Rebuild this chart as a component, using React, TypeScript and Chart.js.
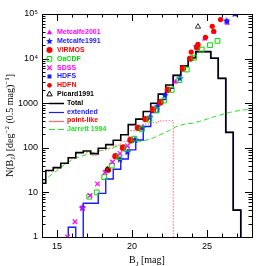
import { useEffect, useRef } from "react";
import { Chart, registerables } from "chart.js";

Chart.register(...registerables);

// ---------- data ----------
const binCenters = [14.0, 14.5, 15.0, 15.5, 16.0, 16.5, 17.0, 17.5, 18.0, 18.5, 19.0, 19.5, 20.0, 20.5, 21.0, 21.5, 22.0, 22.5, 23.0, 23.5, 24.0, 24.5, 25.0, 25.5, 26.0, 26.5, 27.0, 27.5];
const totalCounts = [16, 31, 36, 45, 60, 78, 85, 74, 98, 118, 148, 196, 330, 440, 650, 1000, 1600, 2550, 4200, 6800, 10500, 14300, 14300, 10200, 3600, 222, 4, 0];
const extendedCounts = [0, 0, 0, 0, 1.65, 0, 5.7, 5.7, 9.5, 20, 33, 56, 90, 150, 300, 620, 1200, 2150, 4200, 6800, 10500, 14300, 14300, 10200, 3600, 222, 4, 0];
const pointLikeCounts = [16, 30, 35, 44, 58, 77, 79, 68, 88, 98, 115, 140, 245, 280, 340, 365, 400, 405, 0, 0, 0, 0, 0, 0, 0, 0, 0, 0];

const jarrettMags = [14, 14.5, 15, 15.5, 16, 16.5, 17, 17.5, 18, 18.5, 19, 19.5, 20, 20.5, 21, 21.5, 22, 22.5, 23, 23.5, 24, 24.5, 25, 25.5, 26, 26.5, 27, 27.5, 27.75, 28];
const jarrettCounts = [17, 23, 31, 42, 54, 63, 71, 79, 88, 98, 108, 118, 128, 138, 150, 170, 205, 245, 305, 340, 355, 390, 440, 500, 560, 620, 670, 710, 720, 690];

const metcalfe2001Mags = [22.9, 24.85, 25.45, 26.35, 26.9];
const metcalfe2001Counts = [3000, 27500, 39000, 62000, 100000];

const metcalfe1991Mags = [16.7, 19.2, 19.7, 20.2, 20.7, 21.2, 21.7, 22.2, 23.2, 24.3, 26.3, 26.85];
const metcalfe1991Counts = [4.5, 55, 80, 150, 280, 480, 850, 1500, 3600, 18500, 70000, 100000];

const virmosMags = [18.4, 18.9, 19.4, 19.9, 20.4, 20.9, 21.4, 21.9, 22.4, 23.4, 23.9, 24.35];
const virmosCounts = [32, 65, 100, 150, 280, 440, 720, 1050, 2000, 6000, 10000, 18000];

const oacdfMags = [17.15, 17.65, 18.15, 18.65, 19.15, 19.65, 20.15, 20.65, 21.15, 21.65, 22.15, 22.65, 23.15, 23.65, 24.15, 24.65, 25.2, 25.7];
const oacdfCounts = [8, 10, 22, 40, 62, 95, 160, 260, 430, 700, 1150, 2000, 3300, 5700, 10500, 16000, 20000, 25000];

const sdssMags = [15.7, 16.2, 16.7, 17.2, 17.7, 18.2, 18.7, 19.2, 19.7];
const sdssCounts = [1.0, 2.2, 4.4, 8.5, 15.5, 28, 48, 75, 110];

const hdfsMags = [26.35, 26.9];
const hdfsCounts = [68000, 100000];

const hdfnMags = [23.95, 24.4, 24.9, 25.35, 25.45, 25.9];
const hdfnCounts = [14000, 21000, 30000, 53000, 41000, 75000];

const picardMags = [18.35, 24.4];
const picardCounts = [33, 52000];

const xTickValues = [15, 20, 25];
const yTickValues = [1, 10, 100, 1000, 10000, 100000];
const yTickLabels = ["1", "10", "100", "1000", "10\u2074", "10\u2075"];

const legendLabels = ["Metcalfe2001", "Metcalfe1991", "VIRMOS", "OaCDF", "SDSS", "HDFS", "HDFN", "Picard1991", "Total", "extended", "point-like", "Jarrett 1994"];

// ---------- styles ----------
const MAGENTA = "#ff00ff";
const BLUE = "#1a1aff";
const RED = "#ff0000";
const GREEN = "#00dd00";
const JGREEN = "#22e622";
const PINK = "#ff6a6a";
const BLACK = "#000000";
const FLOOR = 0.001;

function pts(xs: number[], ys: number[]) {
  return xs.map((x, i) => ({ x, y: ys[i] > 0 ? ys[i] : FLOOR }));
}

function makeStar(color: string, r: number) {
  const c = document.createElement("canvas");
  const s = Math.ceil(r * 2 + 2);
  c.width = s;
  c.height = s;
  const g = c.getContext("2d")!;
  g.beginPath();
  for (let i = 0; i < 10; i++) {
    const a = -Math.PI / 2 + (i * Math.PI) / 5;
    const rr = i % 2 === 0 ? r : r * 0.45;
    g.lineTo(s / 2 + rr * Math.cos(a), s / 2 + rr * Math.sin(a));
  }
  g.closePath();
  g.fillStyle = color;
  g.fill();
  return c;
}

type Seg = { t: string; s?: "sub" | "sup" };

function drawRich(ctx: CanvasRenderingContext2D, segs: Seg[], x: number, y: number, size: number, family: string) {
  const fontFor = (sg: Seg) => `${sg.s ? size * 0.7 : size}px ${family}`;
  let total = 0;
  const widths = segs.map((sg) => {
    ctx.font = fontFor(sg);
    const w = ctx.measureText(sg.t).width;
    total += w;
    return w;
  });
  let cx = x - total / 2;
  ctx.textAlign = "left";
  ctx.textBaseline = "alphabetic";
  segs.forEach((sg, i) => {
    ctx.font = fontFor(sg);
    const dy = sg.s === "sub" ? size * 0.25 : sg.s === "sup" ? -size * 0.4 : 0;
    ctx.fillText(sg.t, cx, y + dy);
    cx += widths[i];
  });
}

function drawMarker(ctx: CanvasRenderingContext2D, kind: string, x: number, y: number, color: string) {
  ctx.save();
  ctx.fillStyle = color;
  ctx.strokeStyle = color;
  ctx.lineWidth = 1;
  ctx.beginPath();
  if (kind === "triFill" || kind === "triOpen") {
    const r = 3;
    ctx.moveTo(x, y - r);
    ctx.lineTo(x + r * 0.9, y + r * 0.6);
    ctx.lineTo(x - r * 0.9, y + r * 0.6);
    ctx.closePath();
    if (kind === "triFill") ctx.fill();
    else ctx.stroke();
  } else if (kind === "star") {
    for (let i = 0; i < 10; i++) {
      const a = -Math.PI / 2 + (i * Math.PI) / 5;
      const rr = i % 2 === 0 ? 3.6 : 1.6;
      ctx.lineTo(x + rr * Math.cos(a), y + rr * Math.sin(a));
    }
    ctx.closePath();
    ctx.fill();
  } else if (kind === "circle" || kind === "circleSmall") {
    ctx.arc(x, y, kind === "circle" ? 3 : 2.4, 0, Math.PI * 2);
    ctx.fill();
  } else if (kind === "squareOpen") {
    ctx.rect(x - 2.3, y - 2.3, 4.6, 4.6);
    ctx.stroke();
  } else if (kind === "squareFill") {
    ctx.rect(x - 2, y - 2, 4, 4);
    ctx.fill();
  } else if (kind === "cross") {
    ctx.lineWidth = 1.2;
    ctx.moveTo(x - 2.3, y - 2.3);
    ctx.lineTo(x + 2.3, y + 2.3);
    ctx.moveTo(x + 2.3, y - 2.3);
    ctx.lineTo(x - 2.3, y + 2.3);
    ctx.stroke();
  }
  ctx.restore();
}

const decorPlugin = {
  id: "decor",
  afterDraw(chart: any) {
    const ctx: CanvasRenderingContext2D = chart.ctx;
    const { left, right, top, bottom } = chart.chartArea;
    const xs = chart.scales.x;
    const ys = chart.scales.y;
    ctx.save();
    ctx.strokeStyle = BLACK;
    ctx.lineWidth = 1;
    // frame
    ctx.strokeRect(Math.round(left) + 0.5, Math.round(top) + 0.5, Math.round(right - left), Math.round(bottom - top));
    // y ticks (log)
    ctx.beginPath();
    for (let d = 0; d < 5; d++) {
      for (let j = 1; j <= 9; j++) {
        const v = j * Math.pow(10, d);
        if (v > 100000) continue;
        const py = Math.round(ys.getPixelForValue(v)) + 0.5;
        const len = j === 1 ? 7 : 3.5;
        ctx.moveTo(left, py);
        ctx.lineTo(left + len, py);
        ctx.moveTo(right, py);
        ctx.lineTo(right - len, py);
      }
    }
    // x ticks
    for (let m = 14; m <= 28; m++) {
      const px = Math.round(xs.getPixelForValue(m)) + 0.5;
      const len = m % 5 === 0 ? 7 : 3.5;
      ctx.moveTo(px, bottom);
      ctx.lineTo(px, bottom - len);
      ctx.moveTo(px, top);
      ctx.lineTo(px, top + len);
    }
    ctx.stroke();

    // axis titles
    ctx.fillStyle = BLACK;
    const serif = "'Liberation Serif'";
    drawRich(ctx, [{ t: "B" }, { t: "J", s: "sub" }, { t: " [mag]" }], (left + right) / 2, 263, 10, serif);
    ctx.save();
    ctx.translate(12.5, (top + bottom) / 2);
    ctx.rotate(-Math.PI / 2);
    drawRich(
      ctx,
      [
        { t: "N(B" },
        { t: "J", s: "sub" },
        { t: ") [deg" },
        { t: "\u22122", s: "sup" },
        { t: " (0.5 mag)" },
        { t: "\u22121", s: "sup" },
        { t: "]" },
      ],
      0,
      0,
      10,
      serif
    );
    ctx.restore();

    // legend
    const kinds = ["triFill", "star", "circle", "squareOpen", "cross", "squareFill", "circleSmall", "triOpen"];
    const markColors = [MAGENTA, BLUE, RED, GREEN, MAGENTA, BLUE, RED, BLACK];
    const textColors = [MAGENTA, BLUE, RED, GREEN, MAGENTA, BLUE, RED, BLACK, BLACK, BLUE, RED, JGREEN];
    ctx.font = "bold 7px 'Liberation Sans'";
    ctx.textBaseline = "middle";
    ctx.textAlign = "left";
    legendLabels.forEach((lab, i) => {
      const y = 32.5 + i * 8.8;
      if (i < 8) {
        drawMarker(ctx, kinds[i], 49.5, y, markColors[i]);
        ctx.fillStyle = textColors[i];
        ctx.font = "bold 7px 'Liberation Sans'";
        ctx.fillText(lab, 57, y);
      } else {
        ctx.save();
        const lc = [BLACK, BLUE, PINK, JGREEN][i - 8];
        ctx.strokeStyle = lc;
        ctx.lineWidth = i === 8 ? 1.5 : 1.2;
        if (i === 11) ctx.setLineDash([6, 3]);
        ctx.beginPath();
        ctx.moveTo(49, Math.round(y) + 0.5);
        ctx.lineTo(64, Math.round(y) + 0.5);
        ctx.stroke();
        ctx.restore();
        ctx.fillStyle = textColors[i];
        ctx.font = "bold 7px 'Liberation Sans'";
        ctx.fillText(lab, 67, y);
      }
    });
    ctx.restore();
  },
};

export default function App() {
  const ref = useRef<HTMLCanvasElement | null>(null);
  useEffect(() => {
    document.body.style.margin = "0";
    const canvas = ref.current!;
    const star = makeStar(BLUE, 4);
    const hist = (label: string, ys: number[], color: string, width: number, order: number, dash?: number[]) => ({
      label,
      data: pts(binCenters, ys),
      borderColor: color,
      borderWidth: width,
      borderDash: dash || [],
      stepped: "middle" as const,
      pointRadius: 0,
      fill: false,
      order,
    });
    const scat = (label: string, xs: number[], ys: number[], style: any, color: string, r: number, filled: boolean, bw = 1) => ({
      label,
      data: pts(xs, ys),
      showLine: false,
      pointStyle: style,
      pointRadius: r,
      pointBackgroundColor: filled ? color : "rgba(0,0,0,0)",
      pointBorderColor: color,
      pointBorderWidth: bw,
      order: 0,
    });
    const chart = new Chart(canvas, {
      type: "line",
      data: {
        datasets: [
          scat("Picard1991", picardMags, picardCounts, "triangle", BLACK, 3, false, 0.8),
          scat("HDFN", hdfnMags, hdfnCounts, "circle", RED, 2.6, true, 0),
          scat("HDFS", hdfsMags, hdfsCounts, "rect", BLUE, 2.6, true, 0),
          scat("SDSS", sdssMags, sdssCounts, "crossRot", MAGENTA, 3.2, false, 1.2),
          scat("OaCDF", oacdfMags, oacdfCounts, "rect", GREEN, 3.4, false, 1),
          scat("VIRMOS", virmosMags, virmosCounts, "circle", RED, 3.2, true, 0),
          scat("Metcalfe1991", metcalfe1991Mags, metcalfe1991Counts, star, BLUE, 4, true, 0),
          scat("Metcalfe2001", metcalfe2001Mags, metcalfe2001Counts, "triangle", MAGENTA, 3.2, true, 0),
          hist("Total", totalCounts, BLACK, 1.6, 1),
          hist("extended", extendedCounts, BLUE, 1.4, 2),
          hist("point-like", pointLikeCounts, PINK, 1, 3, [1.5, 1.5]),
          {
            label: "Jarrett 1994",
            data: pts(jarrettMags, jarrettCounts),
            borderColor: JGREEN,
            borderWidth: 1,
            borderDash: [5, 3],
            pointRadius: 0,
            fill: false,
            tension: 0,
            order: 4,
          },
        ] as any,
      },
      options: {
        responsive: false,
        animation: false,
        events: [],
        layout: { padding: { top: 14, right: 14, left: 0, bottom: 0 } },
        plugins: { legend: { display: false }, tooltip: { enabled: false } },
        scales: {
          x: {
            type: "linear",
            min: 14,
            max: 28,
            grid: { display: false, drawTicks: false },
            border: { display: false },
            afterBuildTicks: (s: any) => {
              s.ticks = xTickValues.map((v) => ({ value: v }));
            },
            afterFit: (s: any) => {
              s.height = 29;
            },
            ticks: {
              padding: 4,
              color: BLACK,
              font: { family: "'Liberation Sans'", size: 9 },
              maxRotation: 0,
              callback: (v: any) => String(v),
            },
          },
          y: {
            type: "logarithmic",
            min: 1,
            max: 100000,
            grid: { display: false, drawTicks: false },
            border: { display: false },
            afterBuildTicks: (s: any) => {
              s.ticks = yTickValues.map((v) => ({ value: v }));
            },
            afterFit: (s: any) => {
              s.width = 42;
            },
            ticks: {
              padding: 4,
              color: BLACK,
              font: { family: "'Liberation Sans'", size: 9 },
              callback: (v: any) => {
                const i = yTickValues.indexOf(Number(v));
                return i >= 0 ? yTickLabels[i] : "";
              },
            },
          },
        },
      },
      plugins: [decorPlugin],
    } as any);
    return () => chart.destroy();
  }, []);
  return <canvas ref={ref} width={266} height={266} style={{ display: "block" }} />;
}
